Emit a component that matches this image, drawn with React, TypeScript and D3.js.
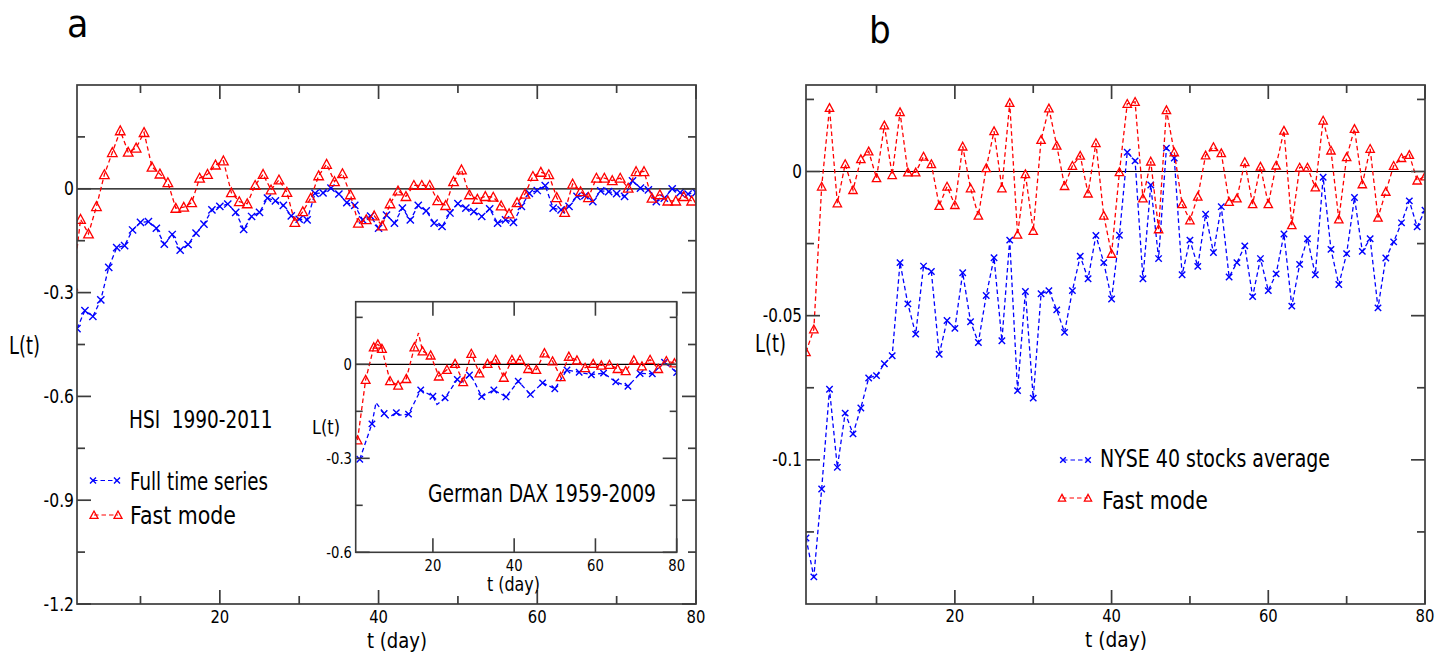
import React from 'react';
import * as d3 from 'd3';

// ---------------- DATA ----------------
// Panel a (main): HSI 1990-2011
const hsiFullDays = d3.range(2, 81);
const hsiFullValues = [
  -0.404, -0.352, -0.369, -0.321, -0.227, -0.170, -0.164, -0.119, -0.097, -0.095,
  -0.114, -0.160, -0.132, -0.177, -0.161, -0.128, -0.102, -0.061, -0.051, -0.044,
  -0.068, -0.117, -0.080, -0.068, -0.027, -0.035, -0.048, -0.078, -0.088, -0.090,
  -0.013, -0.012, 0.002, -0.015, -0.040, -0.048, -0.090, -0.079, -0.114, -0.076,
  -0.099, -0.056, -0.090, -0.048, -0.064, -0.099, -0.109, -0.070, -0.043, -0.056,
  -0.066, -0.080, -0.058, -0.099, -0.090, -0.097, -0.051, -0.013, -0.005, 0.009,
  -0.056, -0.061, -0.051, -0.022, -0.020, -0.037, -0.006, -0.008, -0.014, -0.022,
  0.023, 0.002, -0.003, -0.037, -0.027, 0.000, -0.011, -0.015, -0.011,
];
const hsiFastDays = [
  1.45, 2.45, 3.45, 4.45, 5.45, 6.45, 7.45, 8.45, 9.45, 10.45,
  11.45, 12.45, 13.45, 14.45, 15.45, 16.45, 17.45, 18.45, 19.45, 20.45,
  21.45, 22.45, 23.45, 24.45, 25.45, 26.45, 27.45, 28.45, 29.45, 30.45,
  31.45, 32.45, 33.45, 34.45, 35.45, 36.45, 37.45, 38.45, 39.45, 40.45,
  41.45, 42.45, 43.45, 44.45, 45.45, 46.45, 47.45, 48.45, 49.45, 50.45,
  51.45, 52.45, 53.45, 54.45, 55.45, 56.45, 57.45, 58.45, 59.45, 60.45,
  61.45, 62.45, 63.45, 64.45, 65.45, 66.45, 67.45, 68.45, 69.45, 70.45,
  71.45, 72.45, 73.45, 74.45, 75.45, 76.45, 77.45, 78.45, 79.45,
];
const hsiFastValues = [
  -0.280, -0.088, -0.130, -0.051, 0.041, 0.105, 0.168, 0.106, 0.118, 0.163,
  0.063, 0.043, 0.018, -0.056, -0.053, -0.040, 0.031, 0.042, 0.069, 0.081,
  -0.011, -0.037, -0.043, 0.010, 0.042, -0.003, 0.026, -0.010, -0.097, -0.066,
  -0.027, 0.038, 0.071, 0.021, 0.044, -0.017, -0.099, -0.089, -0.078, -0.107,
  -0.043, -0.006, -0.022, 0.010, 0.010, 0.010, -0.034, -0.048, 0.021, 0.055,
  -0.017, -0.030, -0.022, -0.024, -0.049, -0.072, -0.040, -0.015, 0.036, 0.048,
  0.041, -0.025, -0.068, 0.014, -0.008, -0.025, 0.031, 0.031, 0.024, 0.031,
  0.002, 0.050, 0.050, -0.027, -0.017, -0.035, -0.035, -0.022, -0.035,
];

// Inset: German DAX 1959-2009
const daxFullDays = [2, 5, 6, 8, 9, 11, 12, 14, 17, 20, 21, 23, 26, 27, 29, 30, 32, 35, 38, 41, 44, 47, 50, 53, 56, 59, 62, 65, 68, 71, 74, 77, 80];
const daxFullValues = [
  -0.303, -0.190, -0.122, -0.157, -0.171, -0.154, -0.162, -0.159, -0.082, -0.102,
  -0.128, -0.107, -0.048, -0.058, -0.034, -0.050, -0.103, -0.082, -0.104, -0.054,
  -0.096, -0.059, -0.078, -0.018, -0.025, -0.033, -0.028, -0.056, -0.070, -0.029,
  -0.030, 0.007, -0.026,
];
const daxFullLineOnly = [6, 9, 12, 21, 27, 30];
const daxFastDays = [
  1.45, 3.45, 5.45, 6.45, 7.45, 9.45, 11.45, 13.45, 15.45, 16.45, 17.45, 19.45,
  21.45, 23.45, 25.45, 27.45, 29.45, 31.45, 33.45, 35.45, 37.45, 39.45, 41.45,
  43.45, 45.45, 47.45, 49.45, 51.45, 53.45, 55.45, 57.45, 59.45, 61.45, 63.45,
  65.45, 67.45, 69.45, 71.45, 73.45, 75.45, 77.45, 79.45,
];
const daxFastValues = [
  -0.242, -0.049, 0.055, 0.064, 0.050, -0.053, -0.067, -0.046, 0.055, 0.100, 0.042, 0.029,
  -0.038, -0.017, 0.002, -0.056, 0.034, -0.028, 0.002, 0.015, -0.042, 0.015, 0.015,
  -0.014, -0.017, 0.036, 0.010, -0.040, 0.025, 0.013, -0.011, 0.002, -0.003, -0.001,
  -0.014, -0.021, 0.013, -0.006, 0.015, -0.014, 0.011, 0.004,
];
const daxFastLineOnly = [16.45];

// Panel b: NYSE 40 stocks average
const nyseDays = d3.range(1, 81);
const nyseFullValues = [
  -0.1271, -0.1406, -0.1101, -0.0755, -0.1026, -0.0838, -0.0910, -0.0820, -0.0716, -0.0708,
  -0.0667, -0.0639, -0.0316, -0.0459, -0.0564, -0.0328, -0.0347, -0.0634, -0.0517, -0.0544,
  -0.0351, -0.0521, -0.0593, -0.0430, -0.0299, -0.0587, -0.0238, -0.0760, -0.0416, -0.0786,
  -0.0424, -0.0413, -0.0480, -0.0558, -0.0413, -0.0294, -0.0372, -0.0222, -0.0316, -0.0442,
  -0.0221, 0.0067, 0.0037, -0.0372, -0.0047, -0.0302, 0.0081, 0.0047, -0.0358, -0.0238,
  -0.0329, -0.0148, -0.0281, -0.0122, -0.0366, -0.0316, -0.0258, -0.0434, -0.0302, -0.0413,
  -0.0355, -0.0217, -0.0467, -0.0322, -0.0233, -0.0358, -0.0020, -0.0270, -0.0392, -0.0285,
  -0.0090, -0.0277, -0.0233, -0.0473, -0.0300, -0.0244, -0.0178, -0.0102, -0.0192, -0.0134,
];
const nyseFastValues = [
  -0.0626, -0.0547, -0.0052, 0.0221, -0.0110, 0.0026, -0.0064, 0.0043, 0.0070, -0.0023,
  0.0160, -0.0012, 0.0206, -0.0003, -0.0003, 0.0052, 0.0026, -0.0119, -0.0052, -0.0116,
  0.0087, -0.0058, -0.0153, 0.0012, 0.0140, -0.0058, 0.0238, -0.0219, -0.0009, -0.0206,
  0.0110, 0.0219, 0.0090, -0.0050, 0.0020, 0.0055, -0.0076, 0.0099, -0.0153, -0.0285,
  -0.0002, 0.0235, 0.0242, -0.0093, 0.0035, -0.0200, 0.0213, 0.0067, -0.0113, -0.0169,
  -0.0087, 0.0056, 0.0085, 0.0064, -0.0105, -0.0093, 0.0033, -0.0113, 0.0017, -0.0113,
  0.0021, 0.0142, -0.0186, 0.0014, 0.0014, -0.0055, 0.0177, 0.0073, -0.0166, 0.0050,
  0.0148, -0.0044, 0.0079, -0.0160, -0.0070, 0.0020, 0.0047, 0.0058, -0.0031, -0.0017,
];

// Tick labels
const aXTicks = [20, 40, 60, 80];
const aXMinor = [10, 30, 50, 70];
const aYTicks = [0, -0.3, -0.6, -0.9, -1.2];
const aYTickLabels = ['0', '-0.3', '-0.6', '-0.9', '-1.2'];
const aYMinor = [0.15, -0.15, -0.45, -0.75, -1.05];
const inXTicks = [20, 40, 60, 80];
const inYTicks = [0, -0.3, -0.6];
const inYTickLabels = ['0', '-0.3', '-0.6'];
const inYMinor = [0.15, -0.15, -0.45];
const bXTicks = [20, 40, 60, 80];
const bXMinor = [10, 30, 50, 70];
const bYTicks = [0, -0.05, -0.1];
const bYTickLabels = ['0', '-0.05', '-0.1'];
const bYMinor = [0.025, -0.025, -0.075, -0.125];

// ---------------- STYLE ----------------
const FONT = "'DejaVu Sans', 'Liberation Sans', sans-serif";
const BLUE = '#0000ff';
const RED = '#ff0000';
const FRAME = '#3c3c3c';
const DASH = '4.5,3';

type Scale = d3.ScaleLinear<number, number>;

function XMark({ x, y, s, color }: { x: number; y: number; s: number; color: string }) {
  return (
    <path
      d={`M${x - s},${y - s}L${x + s},${y + s}M${x - s},${y + s}L${x + s},${y - s}`}
      stroke={color}
      strokeWidth={1.4}
      fill="none"
    />
  );
}

function TriMark({ x, y, s, color }: { x: number; y: number; s: number; color: string }) {
  return (
    <path
      d={`M${x},${y - s}L${x + s},${y + s * 0.85}L${x - s},${y + s * 0.85}Z`}
      stroke={color}
      strokeWidth={1.3}
      fill="none"
    />
  );
}

function Series({
  days, values, xs, ys, color, kind, size, clip, lineOnly = [],
}: {
  days: number[]; values: number[]; xs: Scale; ys: Scale; color: string;
  kind: 'x' | 'tri'; size: number; clip: string; lineOnly?: number[];
}) {
  const line = d3.line<number>().x((_, i) => xs(days[i])).y((d) => ys(d));
  return (
    <g clipPath={`url(#${clip})`}>
      <path d={line(values) || ''} fill="none" stroke={color} strokeWidth={1.3} strokeDasharray={DASH} />
      {values.map((v, i) =>
        lineOnly.includes(days[i]) ? null : kind === 'x' ? (
          <XMark key={i} x={xs(days[i])} y={ys(v)} s={size} color={color} />
        ) : (
          <TriMark key={i} x={xs(days[i])} y={ys(v)} s={size} color={color} />
        )
      )}
    </g>
  );
}

function Frame({
  xs, ys, xMajor, xMinor, yMajor, yMinor, major, minor, sw = 1.7,
}: {
  xs: Scale; ys: Scale; xMajor: number[]; xMinor: number[]; yMajor: number[]; yMinor: number[];
  major: number; minor: number; sw?: number;
}) {
  const [l, r] = xs.range();
  const [b, t] = ys.range();
  const segs: [number, number, number, number][] = [];
  const addX = (v: number, len: number) => {
    const p = xs(v);
    segs.push([p, b, p, b - len], [p, t, p, t + len]);
  };
  const addY = (v: number, len: number) => {
    const p = ys(v);
    segs.push([l, p, l + len, p], [r, p, r - len, p]);
  };
  xMajor.forEach((v) => addX(v, major));
  xMinor.forEach((v) => addX(v, minor));
  yMajor.forEach((v) => addY(v, major));
  yMinor.forEach((v) => addY(v, minor));
  return (
    <g stroke={FRAME} strokeWidth={sw} fill="none">
      <rect x={l} y={t} width={r - l} height={b - t} />
      {segs.map((s, i) => (
        <line key={i} x1={s[0]} y1={s[1]} x2={s[2]} y2={s[3]} />
      ))}
    </g>
  );
}

function Txt({
  x, y, text, size, anchor = 'middle', sx = 0.8, baseline = 'central',
}: {
  x: number; y: number; text: string; size: number; anchor?: string; sx?: number; baseline?: string;
}) {
  return (
    <text
      transform={`translate(${x},${y}) scale(${sx},1)`}
      textAnchor={anchor as any}
      dominantBaseline={baseline as any}
      fontFamily={FONT}
      fontSize={size}
      fill="#000"
      style={{ whiteSpace: 'pre' }}
    >
      {text}
    </text>
  );
}

function FitTxt({ x, y, text, size, width }: { x: number; y: number; text: string; size: number; width: number }) {
  return (
    <text
      x={x}
      y={y}
      textLength={width}
      lengthAdjust="spacingAndGlyphs"
      dominantBaseline="central"
      fontFamily={FONT}
      fontSize={size}
      fill="#000"
      style={{ whiteSpace: 'pre' }}
    >
      {text}
    </text>
  );
}

export default function App() {
  const xA = d3.scaleLinear().domain([2, 80]).range([77, 696]);
  const yA = d3.scaleLinear().domain([-1.2, 0.3]).range([604, 85]);
  const xI = d3.scaleLinear().domain([1, 80]).range([355.7, 676.7]);
  const yI = d3.scaleLinear().domain([-0.6, 0.2]).range([552.3, 301.7]);
  const xB = d3.scaleLinear().domain([1, 80]).range([806, 1425]);
  const yB = d3.scaleLinear().domain([-0.15, 0.03]).range([604, 85]);

  const clipRect = (id: string, xs: Scale, ys: Scale) => {
    const [l, r] = xs.range();
    const [b, t] = ys.range();
    return (
      <clipPath id={id}>
        <rect x={l} y={t} width={r - l} height={b - t} />
      </clipPath>
    );
  };

  return (
    <svg
      width={1450}
      height={653}
      style={{ position: 'absolute', left: 0, top: 0, background: '#fff' }}
      xmlns="http://www.w3.org/2000/svg"
    >
      <defs>
        {clipRect('clipA', xA, yA)}
        {clipRect('clipI', xI, yI)}
        {clipRect('clipB', xB, yB)}
      </defs>
      <rect x={0} y={0} width={1450} height={653} fill="#fff" />

      {/* Panel labels */}
      <Txt x={67} y={37} text="a" size={38} anchor="start" sx={0.92} baseline="auto" />
      <Txt x={869} y={43} text="b" size={38} anchor="start" sx={0.9} baseline="auto" />

      {/* ---------- Panel a ---------- */}
      <line x1={xA.range()[0]} x2={xA.range()[1]} y1={yA(0)} y2={yA(0)} stroke="#000" strokeWidth={1.2} />
      <Series days={hsiFullDays} values={hsiFullValues} xs={xA} ys={yA} color={BLUE} kind="x" size={3.6} clip="clipA" />
      <Series days={hsiFastDays} values={hsiFastValues} xs={xA} ys={yA} color={RED} kind="tri" size={4.8} clip="clipA" />
      <Frame xs={xA} ys={yA} xMajor={aXTicks} xMinor={aXMinor} yMajor={aYTicks} yMinor={aYMinor} major={14} minor={8} />
      {aXTicks.map((v) => (
        <Txt key={v} x={xA(v)} y={616} text={String(v)} size={18.5} />
      ))}
      {aYTicks.map((v, i) => (
        <Txt key={v} x={74} y={yA(v)} text={aYTickLabels[i]} size={19.5} anchor="end" />
      ))}
      <FitTxt x={9} y={345} text="L(t)" size={25} width={31} />
      <FitTxt x={367} y={640} text="t (day)" size={22} width={60} />
      <Txt x={129} y={420} text="HSI  1990-2011" size={24.5} anchor="start" sx={0.755} />

      {/* legend a */}
      <line x1={93} x2={117} y1={480.5} y2={480.5} stroke={BLUE} strokeWidth={1.2} strokeDasharray={DASH} />
      <XMark x={93} y={480.5} s={3} color={BLUE} />
      <XMark x={117} y={480.5} s={3} color={BLUE} />
      <FitTxt x={130} y={481} text="Full time series" size={24.5} width={138} />
      <line x1={94} x2={118} y1={515} y2={515} stroke={RED} strokeWidth={1.2} strokeDasharray={DASH} />
      <TriMark x={94} y={515} s={4} color={RED} />
      <TriMark x={118} y={515} s={4} color={RED} />
      <FitTxt x={130} y={515} text="Fast mode" size={24.5} width={106} />

      {/* ---------- Inset ---------- */}
      <rect x={xI.range()[0]} y={yI.range()[1]} width={xI.range()[1] - xI.range()[0]} height={yI.range()[0] - yI.range()[1]} fill="#fff" />
      <line x1={xI.range()[0]} x2={xI.range()[1]} y1={yI(0)} y2={yI(0)} stroke="#000" strokeWidth={1.1} />
      <Series days={daxFullDays} values={daxFullValues} xs={xI} ys={yI} color={BLUE} kind="x" size={3.2} clip="clipI" lineOnly={daxFullLineOnly} />
      <Series days={daxFastDays} values={daxFastValues} xs={xI} ys={yI} color={RED} kind="tri" size={4.4} clip="clipI" lineOnly={daxFastLineOnly} />
      <Frame xs={xI} ys={yI} xMajor={inXTicks} xMinor={[]} yMajor={inYTicks} yMinor={inYMinor} major={14} minor={7} sw={1.6} />
      {inXTicks.map((v) => (
        <Txt key={v} x={xI(v)} y={565} text={String(v)} size={16.5} />
      ))}
      {inYTicks.map((v, i) => (
        <Txt key={v} x={352} y={yI(v)} text={inYTickLabels[i]} size={16.5} anchor="end" />
      ))}
      <FitTxt x={312} y={427} text="L(t)" size={20} width={28} />
      <FitTxt x={487} y={584} text="t (day)" size={20} width={53} />
      <FitTxt x={428} y={493} text="German DAX 1959-2009" size={25} width={228} />

      {/* ---------- Panel b ---------- */}
      <line x1={xB.range()[0]} x2={xB.range()[1]} y1={yB(0)} y2={yB(0)} stroke="#000" strokeWidth={1.2} />
      <Series days={nyseDays} values={nyseFullValues} xs={xB} ys={yB} color={BLUE} kind="x" size={3.2} clip="clipB" />
      <Series days={nyseDays} values={nyseFastValues} xs={xB} ys={yB} color={RED} kind="tri" size={4.2} clip="clipB" />
      <Frame xs={xB} ys={yB} xMajor={bXTicks} xMinor={bXMinor} yMajor={bYTicks} yMinor={bYMinor} major={14} minor={8} />
      {bXTicks.map((v) => (
        <Txt key={v} x={xB(v)} y={615} text={String(v)} size={18.5} />
      ))}
      {bYTicks.map((v, i) => (
        <Txt key={v} x={802} y={yB(v)} text={bYTickLabels[i]} size={19} anchor="end" />
      ))}
      <FitTxt x={755} y={343} text="L(t)" size={25} width={31} />
      <FitTxt x={1085} y={639} text="t (day)" size={22} width={62} />

      {/* legend b */}
      <line x1={1063} x2={1088} y1={460} y2={460} stroke={BLUE} strokeWidth={1.2} strokeDasharray={DASH} />
      <XMark x={1063} y={460} s={2.8} color={BLUE} />
      <XMark x={1088} y={460} s={2.8} color={BLUE} />
      <FitTxt x={1100} y={458} text="NYSE 40 stocks average" size={25} width={230} />
      <line x1={1062} x2={1088} y1={498} y2={498} stroke={RED} strokeWidth={1.2} strokeDasharray={DASH} />
      <TriMark x={1062} y={498} s={3.6} color={RED} />
      <TriMark x={1088} y={498} s={3.6} color={RED} />
      <FitTxt x={1102} y={500} text="Fast mode" size={25} width={106} />
    </svg>
  );
}
